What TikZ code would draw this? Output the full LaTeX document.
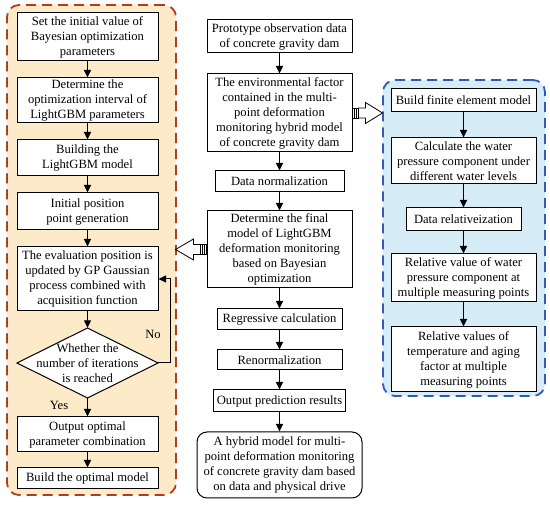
\documentclass[tikz,border=0pt]{standalone}
\usepackage{fontspec}
\setmainfont{Liberation Serif}
\usetikzlibrary{arrows.meta,calc}
\definecolor{orfill}{RGB}{252,234,200}
\definecolor{orline}{RGB}{178,60,30}
\definecolor{blfill}{RGB}{214,236,246}
\definecolor{blline}{RGB}{50,90,190}
\begin{document}
\begin{tikzpicture}[x=1pt,y=-1pt, font=\fontsize{12.6}{15}\selectfont,
 box/.style={draw, line width=1pt, fill=white, align=center, inner sep=1pt},
 arr/.style={line width=1pt, -{Triangle[length=7.5pt,width=7pt]}},
 region/.style={line width=1.8pt, dash pattern=on 10pt off 6pt, rounded corners=12pt},
 hollow/.style={line width=0.8pt, fill=white},
 lbl/.style={inner sep=0pt}
]
\useasboundingbox (0,0) rectangle (550,505);
% regions
\node[region, draw=orline, fill=orfill, minimum width=169pt, minimum height=490pt] (L) at (91.5,250) {};
\node[region, draw=blline, fill=blfill, minimum width=162pt, minimum height=316pt] (R) at (464,238) {};
% left column
\node[box, minimum width=141pt, minimum height=48pt] (l1) at (87.5,37) {Set the initial value of\\Bayesian optimization\\parameters};
\node[box, minimum width=141pt, minimum height=45pt] (l2) at (87.5,100.5) {Determine the\\optimization interval of\\LightGBM parameters};
\node[box, minimum width=141pt, minimum height=36pt] (l3) at (87.5,158) {Building the\\LightGBM model};
\node[box, minimum width=141pt, minimum height=37pt] (l4) at (87.5,211.5) {Initial position\\point generation};
\node[box, minimum width=141pt, minimum height=64pt] (l5) at (87.5,279) {The evaluation position is\\updated by GP Gaussian\\process combined with\\acquisition function};
\draw[line width=1pt, fill=white] (17,363) -- (87.5,328) -- (158,363) -- (87.5,398) -- cycle;
\node[align=center, inner sep=0pt, minimum width=141pt, minimum height=70pt] (Q) at (87.5,363) {\rule{0pt}{8pt}Whether the\\number of iterations\\is reached};
\node[box, minimum width=141pt, minimum height=35pt] (l6) at (87.5,434.5) {Output optimal\\parameter combination};
\node[box, minimum width=141pt, minimum height=21pt] (l7) at (87.5,478.5) {Build the optimal model};
% center column
\node[box, minimum width=145pt, minimum height=33pt] (c1) at (279.5,36.5) {Prototype observation data\\of concrete gravity dam};
\node[box, minimum width=145pt, minimum height=78pt] (c2) at (279.5,113) {The environmental factor\\contained in the multi-\\point deformation\\monitoring hybrid model\\of concrete gravity dam};
\node[box, minimum width=129pt, minimum height=21pt] (c3) at (279.5,181.5) {Data normalization};
\node[box, minimum width=145pt, minimum height=77pt] (c4) at (279.5,249.5) {Determine the final\\model of LightGBM\\deformation monitoring\\based on Bayesian\\optimization};
\node[box, minimum width=125pt, minimum height=21pt] (c5) at (279.5,319.5) {Regressive calculation};
\node[box, minimum width=125pt, minimum height=20pt] (c6) at (279.5,360) {Renormalization};
\node[box, minimum width=132pt, minimum height=22pt] (c7) at (279.5,401) {Output prediction results};
\node[box, rounded corners=10pt, minimum width=165pt, minimum height=66pt] (c8) at (279.5,465) {A hybrid model for multi-\\point deformation monitoring\\of concrete gravity dam based\\on data and physical drive};
% right column
\node[box, minimum width=145pt, minimum height=23pt] (r1) at (463.5,100.5) {Build finite element model};
\node[box, minimum width=145pt, minimum height=46pt] (r2) at (463.5,161) {Calculate the water\\pressure component under\\different water levels};
\node[box, minimum width=115pt, minimum height=23pt] (r3) at (463.5,219.5) {Data relativeization};
\node[box, minimum width=145pt, minimum height=48pt] (r4) at (463.5,278) {Relative value of water\\pressure component at\\multiple measuring points};
\node[box, minimum width=145pt, minimum height=65pt] (r5) at (463.5,359.5) {Relative values of\\temperature and aging\\factor at multiple\\measuring points};
% left connectors
\draw[arr] (l1.south) -- (l2.north);
\draw[arr] (l2.south) -- (l3.north);
\draw[arr] (l3.south) -- (l4.north);
\draw[arr] (l4.south) -- (l5.north);
\draw[arr] (l5.south) -- (Q.north);
\draw[arr] (Q.south) -- (l6.north);
\draw[arr] (l6.south) -- (l7.north);
\draw[arr] (Q.east) -- ++(12,0) |- (l5.east);
\node[lbl] (no) at (153,334) {No};
\node[lbl] (yes) at (59,405) {Yes};
% center connectors
\draw[arr] (c1.south) -- (c2.north);
\draw[arr] (c2.south) -- (c3.north);
\draw[arr] (c3.south) -- (c4.north);
\draw[arr] (c4.south) -- (c5.north);
\draw[arr] (c5.south) -- (c6.north);
\draw[arr] (c6.south) -- (c7.north);
\draw[arr] (c7.south) -- (c8.north);
% right connectors
\draw[arr] (r1.south) -- (r2.north);
\draw[arr] (r2.south) -- (r3.north);
\draw[arr] (r3.south) -- (r4.north);
\draw[arr] (r4.south) -- (r5.north);
% hollow arrows
\begin{scope}[shift={(c2.east)}]
\draw[hollow] (6,-5) -- (13,-5) -- (13,-10.5) -- (30,0) -- (13,10.5) -- (13,5) -- (6,5) -- cycle;
\draw[hollow] (0,-5) rectangle (6,5);
\draw[line width=1.1pt] (2,-5) -- (2,5) (4,-5) -- (4,5);
\end{scope}
\begin{scope}[shift={(c4.west)}, xscale=-1]
\draw[hollow] (6,-5) -- (13,-5) -- (13,-10.5) -- (31,0) -- (13,10.5) -- (13,5) -- (6,5) -- cycle;
\draw[hollow] (0,-5) rectangle (6,5);
\draw[line width=1.1pt] (2,-5) -- (2,5) (4,-5) -- (4,5);
\end{scope}
\end{tikzpicture}
\end{document}
